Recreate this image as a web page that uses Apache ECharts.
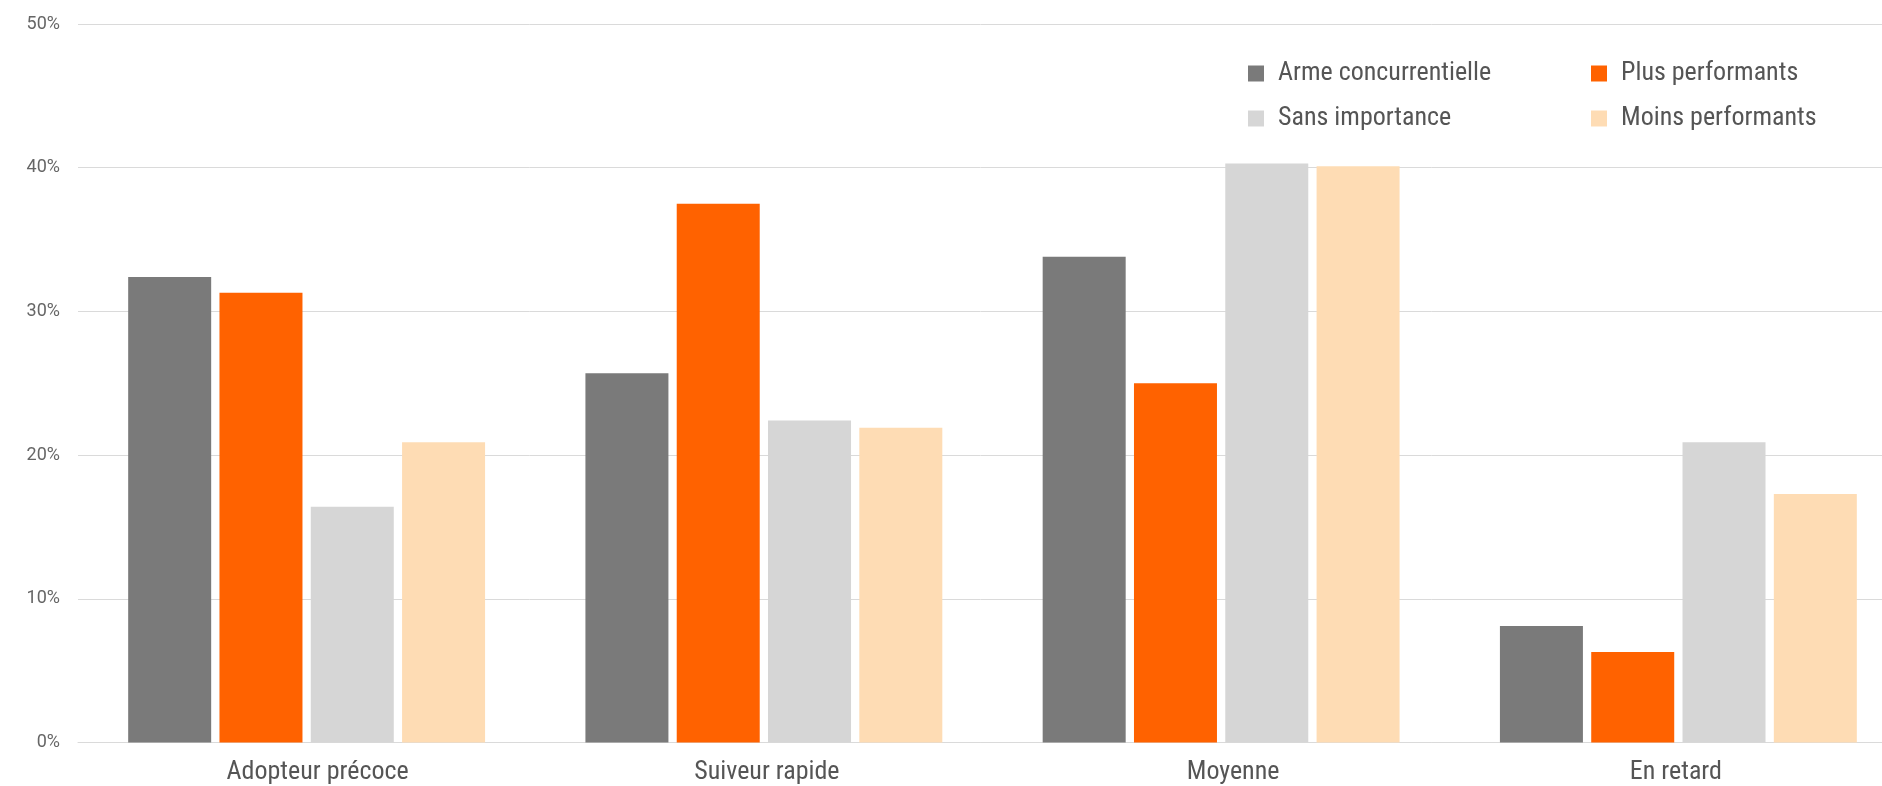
<!DOCTYPE html>
<html>
<head>
<meta charset="utf-8">
<script src="https://cdn.jsdelivr.net/npm/echarts@6/dist/echarts.min.js"></script>
<style>html,body{margin:0;padding:0;background:#fff;}#chart{width:1882px;height:786px;}</style>
</head>
<body>
<div id="chart"></div>
<script>
const categories = ['Adopteur précoce', 'Suiveur rapide', 'Moyenne', 'En retard'];
const seriesNames = ['Arme concurrentielle', 'Plus performants', 'Sans importance', 'Moins performants'];
const armeConcurrentielle = [32.4, 25.7, 33.8, 8.1];
const plusPerformants = [31.3, 37.5, 25.0, 6.3];
const sansImportance = [16.4, 22.4, 40.3, 20.9];
const moinsPerformants = [20.9, 21.9, 40.1, 17.3];
const yTicks = [0, 10, 20, 30, 40, 50];

const colors = ['#7a7a7a', '#ff6200', '#d6d6d6', '#fedcb4'];
const condFont = '"Roboto Condensed", Roboto, sans-serif';
// horizontal nudges of the category labels (px), as seen in the reference
const labelShift = [22, 6, 24, -5];

const chart = echarts.init(document.getElementById('chart'));
const allValues = [armeConcurrentielle, plusPerformants, sansImportance, moinsPerformants];
const legendText = {fontFamily: condFont, fontSize: 26, color: '#555', lineHeight: 28, padding: [0, 0, 0, 9]};
const xRich = {};
labelShift.forEach((s, i) => {
  xRich['c' + i] = {
    fontFamily: condFont, fontSize: 26, color: '#555',
    padding: s >= 0 ? [0, 0, 0, s] : [0, -s, 0, 0]
  };
});
chart.setOption({
  animation: false,
  color: colors,
  grid: {left: 78, width: 1829, top: 24, bottom: 43.5, containLabel: false, outerBoundsMode: 'none'},
  legend: [
    {
      data: [seriesNames[0], seriesNames[2]],
      orient: 'vertical', left: 1248, top: 59.5, padding: 0,
      itemWidth: 16, itemHeight: 16, itemGap: 17, icon: 'rect',
      textStyle: legendText
    },
    {
      data: [seriesNames[1], seriesNames[3]],
      orient: 'vertical', left: 1591, top: 59.5, padding: 0,
      itemWidth: 16, itemHeight: 16, itemGap: 17, icon: 'rect',
      textStyle: legendText
    }
  ],
  xAxis: {
    type: 'category',
    data: categories,
    axisLine: {lineStyle: {color: '#dadada', width: 1}},
    axisTick: {show: false},
    axisLabel: {
      margin: 17,
      fontFamily: condFont, fontSize: 26, color: '#555',
      formatter: (v, i) => '{c' + i + '|' + v + '}',
      rich: xRich
    }
  },
  yAxis: {
    type: 'value',
    min: yTicks[0], max: yTicks[yTicks.length - 1], interval: 10,
    axisLine: {show: false},
    axisTick: {show: false},
    axisLabel: {
      margin: 18,
      fontFamily: 'Roboto', fontSize: 18, color: '#666',
      formatter: '{value}%'
    },
    splitLine: {lineStyle: {color: '#dadada', width: 1}}
  },
  series: allValues.map((vals, i) => ({
    name: seriesNames[i],
    type: 'bar',
    data: vals,
    barWidth: 83,
    barGap: '10%'
  }))
});
</script>
</body>
</html>
